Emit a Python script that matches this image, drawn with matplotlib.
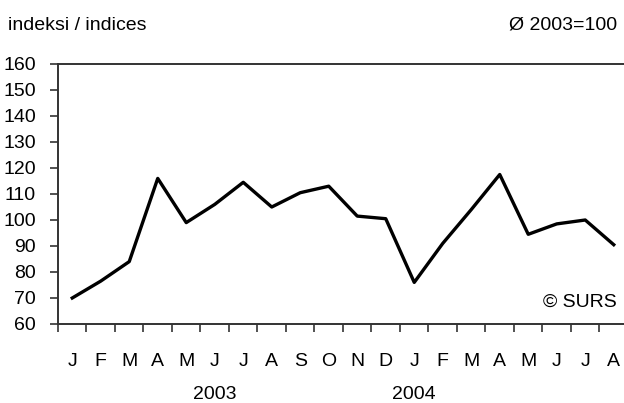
import matplotlib.pyplot as plt

months = ['J', 'F', 'M', 'A', 'M', 'J', 'J', 'A', 'S', 'O', 'N', 'D',
          'J', 'F', 'M', 'A', 'M', 'J', 'J', 'A']
values = [70, 76.5, 84, 116, 99, 106, 114.5, 105, 110.5, 113, 101.5, 100.5,
          76, 91, 104, 117.5, 94.5, 98.5, 100, 90.5]
years = ['2003', '2004']

plt.rcParams['font.family'] = ['Liberation Sans Narrow', 'Liberation Sans', 'DejaVu Sans']
plt.rcParams['font.size'] = 14

fig = plt.figure(figsize=(6.24, 4.03), dpi=100)
ax = fig.add_axes([58 / 624, 1 - 324 / 403, 1 - 58 / 624, (324 - 64) / 403])

x = [i + 0.5 for i in range(len(values))]
ax.plot(x, values, color='black', lw=2.4)
ax.set_xlim(0, 19.86)
ax.set_ylim(60, 160)
ax.set_yticks(range(60, 161, 10))
ax.set_xticks(range(0, 20))
ax.set_xticklabels([])
ax.set_xticks(x, minor=True)
ax.set_xticklabels(months, minor=True)
ax.tick_params(axis='x', which='major', direction='out', length=6, width=1.2, color='#333333')
ax.tick_params(axis='x', which='minor', length=0, pad=21)
ax.tick_params(axis='y', direction='out', length=6, width=1.2, pad=10, color='#333333')
ax.spines['right'].set_visible(False)
for s in ['top', 'left', 'bottom']:
    ax.spines[s].set_linewidth(1.4)
    ax.spines[s].set_color('#333333')

ax.text(5.5, -0.27, years[0], transform=ax.get_xaxis_transform(), ha='center', va='center')
ax.text(12.5, -0.27, years[1], transform=ax.get_xaxis_transform(), ha='center', va='center')
fig.text(8 / 624, 1 - 25 / 403, 'indeksi / indices', ha='left', va='center')
fig.text(617 / 624, 1 - 25 / 403, 'Ø 2003=100', ha='right', va='center')
ax.text(19.6, 68.4, '© SURS', ha='right', va='center')

fig.savefig('out.png', dpi=100)
